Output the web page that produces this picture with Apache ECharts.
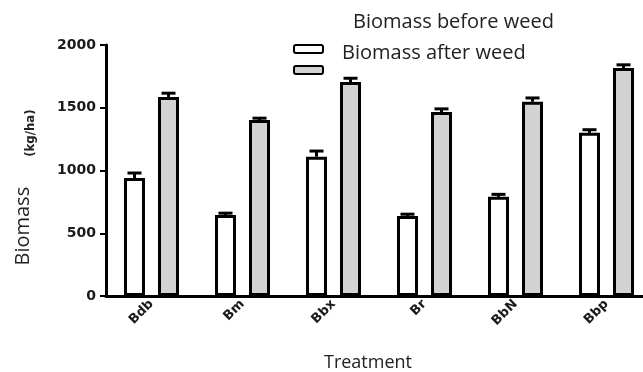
<!DOCTYPE html>
<html>
<head>
<meta charset="utf-8">
<script src="https://cdn.jsdelivr.net/npm/echarts@6/dist/echarts.min.js"></script>
<style>
  html, body { margin: 0; padding: 0; background: #fff; }
  #chart { width: 643px; height: 372px; }
</style>
</head>
<body>
<div id="chart"></div>
<script>
// data
const treatments = ["Bdb", "Bm", "Bbx", "Br", "BbN", "Bbp"];
const beforeWeed = [940, 645, 1110, 637, 790, 1300];
const beforeErr = [40, 15, 45, 15, 20, 25];
const afterWeed = [1586, 1402, 1705, 1466, 1548, 1817];
const afterErr = [30, 15, 30, 25, 30, 25];
const yTicks = [0, 500, 1000, 1500, 2000];

const BAR_W = 21;
const BAR_GAP = 0.62;
const half = (BAR_W * (1 + BAR_GAP)) / 2;

const chart = echarts.init(document.getElementById("chart"));

// error bar: line up from bar top with small cap
function errorBar(shift) {
    return function (params, api) {
        const i = api.value(0);
        const top = api.coord([i, api.value(1)]);
        const end = api.coord([i, api.value(1) + api.value(2)]);
        const x = top[0] + shift;
        const style = { stroke: "#000", lineWidth: 3 };
        return {
            type: "group",
            children: [
                { type: "line", shape: { x1: x, y1: top[1], x2: x, y2: end[1] }, style: style },
                { type: "line", shape: { x1: x - 7, y1: end[1], x2: x + 7, y2: end[1] }, style: style },
            ],
        };
    };
}

chart.setOption({
    animation: false,
    grid: { left: 106, top: 45, right: -9, bottom: 76, outerBoundsMode: "none" },
    legend: [
        {
            data: ["Biomass before weed"],
            left: 288, top: 39,
            icon: "roundRect",
            itemWidth: 29, itemHeight: 8,
            formatter: () => "",
            selectedMode: false,
        },
        {
            data: ["Biomass after weed"],
            left: 288, top: 60,
            icon: "roundRect",
            itemWidth: 29, itemHeight: 8,
            formatter: () => "",
            selectedMode: false,
        },
    ],
    graphic: [
        {
            type: "text", x: 353, y: 22,
            style: { text: "Biomass before weed", font: "20px 'Open Sans'", fill: "#222", verticalAlign: "middle" },
        },
        {
            type: "text", x: 342, y: 53,
            style: { text: "Biomass after weed", font: "20px 'Open Sans'", fill: "#222", verticalAlign: "middle" },
        },
    ],
    xAxis: {
        type: "category",
        data: treatments,
        name: "Treatment",
        nameLocation: "middle",
        nameGap: 58,
        nameTextStyle: { fontFamily: "Open Sans", fontSize: 18, color: "#222", padding: [0, 22, 0, 0] },
        axisLine: { lineStyle: { color: "#000", width: 3 } },
        axisTick: { alignWithLabel: true, length: 5, lineStyle: { color: "#000", width: 2 } },
        axisLabel: {
            rotate: 45, margin: 6,
            fontFamily: "DejaVu Sans", fontWeight: "bold", fontSize: 13, color: "#1a1a1a",
        },
    },
    yAxis: {
        type: "value",
        min: yTicks[0], max: yTicks[yTicks.length - 1], interval: 500,
        name: "{b|Biomass}{s|}{k|(kg/ha)}",
        nameLocation: "middle",
        nameRotate: 90,
        nameGap: 73,
        nameTextStyle: {
            padding: [0, 34, 0, 0],
            rich: {
                b: { fontFamily: "Open Sans", fontSize: 20, color: "#222", verticalAlign: "bottom" },
                s: { width: 30 },
                k: { fontFamily: "DejaVu Sans Condensed", fontWeight: "bold", fontSize: 13, color: "#222", verticalAlign: "bottom", padding: [0, 0, -4, 0] },
            },
        },
        splitLine: { show: false },
        axisLine: { show: true, lineStyle: { color: "#000", width: 3 } },
        axisTick: { show: true, length: 6, lineStyle: { color: "#000", width: 2 } },
        axisLabel: {
            fontFamily: "DejaVu Sans", fontWeight: "bold", fontSize: 14, color: "#1a1a1a", margin: 10,
            formatter: (v) => String(v),
        },
    },
    series: [
        {
            name: "Biomass before weed",
            type: "bar",
            data: beforeWeed,
            barWidth: BAR_W,
            barGap: BAR_GAP * 100 + "%",
            itemStyle: { color: "#fff", borderColor: "#000", borderWidth: 3 },
        },
        {
            name: "Biomass after weed",
            type: "bar",
            data: afterWeed,
            barWidth: BAR_W,
            itemStyle: { color: "#d3d3d3", borderColor: "#000", borderWidth: 3 },
        },
        {
            type: "custom",
            renderItem: errorBar(-half),
            data: beforeWeed.map((v, i) => [i, v, beforeErr[i]]),
            encode: { x: 0, y: 1 },
            z: 5,
        },
        {
            type: "custom",
            renderItem: errorBar(half),
            data: afterWeed.map((v, i) => [i, v, afterErr[i]]),
            encode: { x: 0, y: 1 },
            z: 5,
        },
    ],
});
</script>
</body>
</html>
